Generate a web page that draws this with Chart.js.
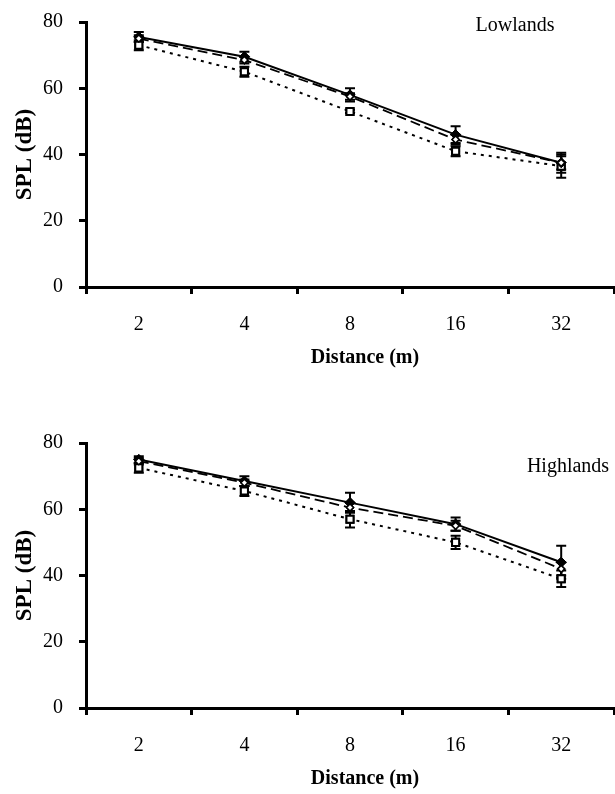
<!DOCTYPE html>
<html lang="en">
<head>
  <meta charset="UTF-8" />
  <title>SPL vs Distance</title>
  <style>
    body {
      margin: 0;
      background: #fff;
      width: 615px;
      height: 794px;
      overflow: hidden;
      position: relative;
    }
    canvas {
      position: absolute;
      left: 0;
    }
    #low { top: 0; }
    #high { top: 421px; }
  </style>
  <script src="https://cdn.jsdelivr.net/npm/chart.js"></script>
</head>
<body>
  <canvas id="low" width="615" height="373"></canvas>
  <canvas id="high" width="615" height="373"></canvas>

  <script>
    const distances = ['2', '4', '8', '16', '32'];
    const yTicks = [0, 20, 40, 60, 80];

    // Lowlands
    const lowSolid = [75.5, 69.5, 58, 46, 37.5];
    const lowSolidErr = [1.5, 1.5, 2, 2.5, 3];
    const lowDashed = [75, 68.5, 57.5, 44.5, 37.5];
    const lowDashedErr = [1, 1, 1, 1.5, 2];
    const lowDotted = [73, 65, 53, 41, 36.5];
    const lowDottedErr = [1.5, 1.5, 0.5, 1.5, 3.5];

    // Highlands
    const highSolid = [75, 68.5, 62, 55.5, 44];
    const highSolidErr = [1, 1.5, 3, 2, 5];
    const highDashed = [74.5, 68, 60.5, 55, 42];
    const highDashedErr = [1, 1, 1.5, 1.5, 2];
    const highDotted = [72.5, 65.5, 57, 50, 39];
    const highDottedErr = [1.5, 1.5, 2.5, 2, 2.5];

    const serif = "'Liberation Serif', 'Times New Roman', serif";

    // vertical error bars with caps, markers redrawn on top
    const errorBars = {
      id: 'errorBars',
      afterDatasetsDraw(chart) {
        const ctx = chart.ctx;
        const y = chart.scales.y;
        ctx.save();
        ctx.strokeStyle = '#000';
        ctx.lineWidth = 2;
        chart.data.datasets.forEach((ds, i) => {
          if (!ds.errors) return;
          const meta = chart.getDatasetMeta(i);
          meta.data.forEach((pt, j) => {
            const e = ds.errors[j];
            const top = y.getPixelForValue(ds.data[j] + e);
            const bot = y.getPixelForValue(ds.data[j] - e);
            ctx.beginPath();
            ctx.moveTo(pt.x, top); ctx.lineTo(pt.x, bot);
            ctx.moveTo(pt.x - 5, top); ctx.lineTo(pt.x + 5, top);
            ctx.moveTo(pt.x - 5, bot); ctx.lineTo(pt.x + 5, bot);
            ctx.stroke();
          });
        });
        ctx.restore();
        [2, 0, 1].forEach(i => {
          const meta = chart.getDatasetMeta(i);
          meta.data.forEach(pt => pt.draw(ctx, chart.chartArea));
        });
      }
    };

    // panel name and x axis title (title sits a little right of centre)
    const panelText = {
      id: 'panelText',
      afterDraw(chart, args, opts) {
        const ctx = chart.ctx;
        ctx.save();
        ctx.fillStyle = '#000';
        ctx.textAlign = 'center';
        ctx.textBaseline = 'middle';
        ctx.font = '20px ' + serif;
        ctx.fillText(opts.text, opts.x, opts.y);
        ctx.font = 'bold 20px ' + serif;
        ctx.fillText('Distance (m)', 365, 358);
        ctx.restore();
      }
    };

    function makeChart(id, label, lx, ly, solid, solidErr, dashed, dashedErr, dotted, dottedErr) {
      return new Chart(document.getElementById(id), {
        type: 'line',
        data: {
          labels: distances,
          datasets: [{
            data: solid,
            errors: solidErr,
            borderColor: '#000',
            borderWidth: 2,
            pointStyle: 'rectRot',
            pointRadius: 5,
            pointBackgroundColor: '#000',
            pointBorderColor: '#000',
            pointBorderWidth: 1
          }, {
            data: dashed,
            errors: dashedErr,
            borderColor: '#000',
            borderWidth: 1.8,
            borderDash: [10, 5],
            pointStyle: 'rectRot',
            pointRadius: 3.5,
            pointBackgroundColor: '#fff',
            pointBorderColor: '#000',
            pointBorderWidth: 1.5
          }, {
            data: dotted,
            errors: dottedErr,
            borderColor: '#000',
            borderWidth: 2,
            borderDash: [3, 5],
            pointStyle: 'rect',
            pointRadius: 5,
            pointBackgroundColor: '#fff',
            pointBorderColor: '#000',
            pointBorderWidth: 2
          }]
        },
        options: {
          responsive: false,
          animation: false,
          layout: { autoPadding: false, padding: { top: 22, left: 0, right: 1, bottom: 5 } },
          plugins: {
            legend: { display: false },
            tooltip: { enabled: false },
            panelText: { text: label, x: lx, y: ly }
          },
          scales: {
            x: {
              offset: true,
              afterFit(scale) {
                scale.height = 81;
                scale.paddingLeft = 0;
                scale.paddingRight = 0;
              },
              grid: {
                offset: true,
                drawOnChartArea: false,
                tickLength: 7,
                tickWidth: 3,
                tickColor: '#000'
              },
              border: { color: '#000', width: 3 },
              ticks: { color: '#000', padding: 19, font: { family: serif, size: 20 } }
            },
            y: {
              min: 0,
              max: 80,
              afterFit(scale) {
                scale.width = 86;
                scale.paddingTop = 0;
                scale.paddingBottom = 0;
              },
              afterBuildTicks(scale) { scale.ticks = yTicks.map(v => ({ value: v })); },
              grid: {
                drawOnChartArea: false,
                tickLength: 7,
                tickWidth: 3,
                tickColor: '#000'
              },
              border: { color: '#000', width: 3 },
              ticks: { color: '#000', padding: 16, font: { family: serif, size: 20 } },
              title: {
                display: true,
                text: 'SPL (dB)',
                color: '#000',
                padding: { top: 11, bottom: 0 },
                font: { family: serif, size: 23, weight: 'bold' }
              }
            }
          }
        },
        plugins: [errorBars, panelText]
      });
    }

    makeChart('low', 'Lowlands', 515, 26, lowSolid, lowSolidErr, lowDashed, lowDashedErr, lowDotted, lowDottedErr);
    makeChart('high', 'Highlands', 568, 46, highSolid, highSolidErr, highDashed, highDashedErr, highDotted, highDottedErr);
  </script>
</body>
</html>
